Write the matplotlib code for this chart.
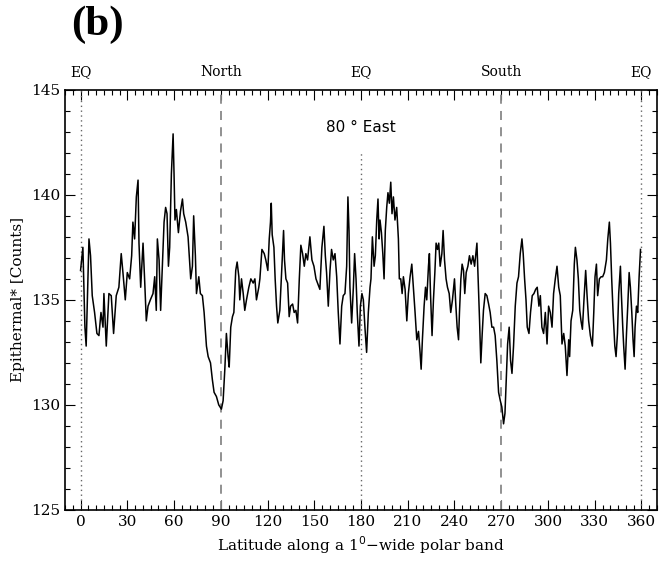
import numpy as np
import matplotlib.pyplot as plt

# latitude along the polar band (deg) and epithermal counts
lat = [0, 1.5, 2.8, 3.6, 5.4, 6.4, 7.5, 9.0, 10.5, 11.8, 13.1, 14.4, 15.0, 16.5, 18.2, 19.7,
       21.2, 22.9, 24.6, 26.1, 27.2, 28.7, 30.0, 31.5, 32.8, 33.6, 34.7, 35.8, 36.9, 37.5,
       38.6, 40.1, 41.1, 42.2, 43.3, 44.8, 46.5, 47.6, 48.6, 49.3, 50.4, 51.4, 52.5, 53.6,
       54.6, 55.5, 56.4, 57.2, 58.3, 59.4, 60.0, 60.6, 61.5, 62.8, 64.1, 65.4, 66.2, 67.5,
       69.0, 70.7, 71.8, 72.6, 73.7, 74.4, 75.9, 76.9, 78.2, 79.3, 80.8, 81.9, 83.4, 84.6,
       85.7, 87.2, 88.7, 90.4, 91.5, 92.6, 93.6, 94.7, 95.4, 96.4, 97.5, 98.4, 99.6, 100.5,
       101.6, 102.2, 103.3, 104.4, 105.4, 106.5, 108.0, 109.3, 110.8, 111.9, 112.9, 114.4,
       115.1, 116.4, 117.9, 118.9, 120.2, 121.1, 121.9, 122.4, 123.0, 124.1, 124.9, 125.8,
       126.6, 127.9, 129.2, 130.3, 130.9, 131.8, 132.9, 133.9, 134.8, 136.1, 137.1, 138.2,
       139.3, 140.4, 141.4, 142.5, 143.6, 144.6, 145.7, 147.2, 148.5, 149.8, 151.1, 152.1,
       153.6, 154.9, 156.2, 157.1, 157.9, 159.0, 160.1, 161.1, 162.2, 163.3, 164.4, 165.4,
       166.5, 167.6, 168.6, 169.7, 170.8, 171.6, 172.3, 172.9, 174.0, 175.1, 175.9, 176.8,
       177.6, 178.7, 179.6, 180.6, 181.5, 182.6, 183.6, 184.7, 185.8, 186.4, 187.3, 188.4,
       189.2, 190.1, 190.9, 191.6, 192.2, 193.1, 194.0, 194.8, 195.6, 196.5, 197.3, 198.2,
       199.1, 199.9, 200.8, 201.8, 202.9, 204.0, 204.6,
       205.5, 206.4, 207.2, 208.3, 209.4, 210.4, 211.5, 212.6, 213.6, 214.7, 215.8, 216.9,
       217.9, 218.6, 219.4, 220.5, 221.4, 222.2, 223.3, 223.9, 224.6, 225.6, 226.5, 227.4,
       228.2, 229.1, 229.9, 230.8, 231.9, 232.7, 233.6, 234.6, 235.5, 236.6, 237.6, 238.7,
       240.0, 240.9, 241.7, 242.6, 243.2, 244.1, 244.9, 245.8, 246.6, 247.5, 248.6, 249.6,
       250.7, 251.8, 252.9, 253.7, 254.4, 255.2, 256.1, 256.9, 257.8, 258.6, 259.7, 260.8,
       261.9, 262.9, 264.0, 265.1, 266.1, 267.2, 268.3, 269.4, 270.4, 271.5, 272.4, 273.2,
       274.1, 275.1, 276.0, 276.9, 277.9, 279.0, 280.1, 281.1, 282.2, 283.3, 284.1, 285.0,
       285.9, 286.7, 287.8, 288.8, 289.9, 291.0, 292.1, 293.1, 294.2,
       295.1, 296.1, 297.2, 298.3, 299.4, 300.4, 301.5, 302.6, 303.6, 304.7, 305.8, 306.9,
       307.9, 309.0, 310.1, 311.1, 312.2, 313.3, 313.9, 314.8, 315.9, 316.9, 317.6, 318.6,
       319.5, 320.4, 321.2, 322.1, 323.1, 324.2, 325.1, 326.1, 327.2, 328.5, 329.4, 330.2,
       331.1, 331.9, 333.0, 334.1, 335.1, 336.2, 337.5, 338.4, 339.4, 340.1, 340.9, 341.8,
       342.9, 343.7, 344.6, 345.4, 346.5, 347.1, 348.0, 348.6, 349.5, 350.4, 351.2, 352.1,
       352.9, 353.8, 354.6, 355.3, 355.9, 356.8, 357.6, 358.5, 359.4]

counts = [136.4, 137.5, 133.7, 132.8, 137.9, 137.1, 135.2, 134.4, 133.4, 133.3, 134.4, 133.7,
          135.3, 132.8, 135.3, 135.2, 133.4, 135.2, 135.6, 137.2, 136.3, 135.0, 136.3, 136.0,
          137.1, 138.7, 137.9, 139.9, 140.7, 137.7, 135.6, 137.7, 136.0, 134.0, 134.7, 135.0,
          135.3, 136.1, 134.5, 137.9, 136.9, 134.5, 136.6, 138.7, 139.4, 139.1, 136.6, 137.5,
          141.0, 142.9, 141.0, 138.8, 139.3, 138.2, 139.2, 139.8, 139.1, 138.7, 138.0, 136.0,
          136.6, 139.0, 137.1, 135.3, 136.1, 135.3, 135.2, 134.4, 132.8, 132.3, 132.0, 131.2,
          130.6, 130.4, 130.0, 129.8, 130.2, 131.7, 133.4, 132.3, 131.8, 133.7, 134.2, 134.4,
          136.4, 136.8, 136.1, 135.0, 136.0, 135.3, 134.5, 135.0, 135.6, 136.0, 135.8, 136.0,
          135.0, 135.6,
          136.0, 137.4, 137.2, 136.9, 136.4, 137.9, 138.7, 139.6, 138.1, 137.5, 136.0, 134.7,
          133.9, 134.5, 136.6, 138.3, 136.9, 136.0, 135.8, 134.2, 134.7, 134.8, 134.4, 134.5,
          133.9, 136.0, 137.6, 137.2, 136.6, 137.2, 136.9, 138.0, 136.9, 136.6, 136.0, 135.8,
          135.5, 137.5, 138.5, 137.1, 136.3, 134.7, 136.4, 137.4, 136.9, 137.2, 136.1, 134.4,
          132.9, 134.7, 135.2, 135.3, 136.6, 139.9, 138.3, 135.6, 133.9, 135.6, 137.2, 136.0,
          134.4, 132.8, 134.7, 135.3, 135.0, 133.6, 132.5, 134.4, 135.6, 136.0, 138.0, 136.6,
          137.1, 138.8, 139.8, 137.9, 138.8, 138.2, 137.2, 136.0, 138.3, 139.4, 140.1, 139.6,
          140.6, 139.1, 139.9, 138.8, 139.4, 137.9, 136.0,
          136.0, 135.3, 136.1, 135.5, 134.0, 135.3, 136.1, 136.7, 135.6, 134.4, 133.1, 133.5,
          132.5, 131.7, 133.1, 134.7, 135.6, 135.0, 136.6, 137.2, 135.3, 133.3, 135.0, 136.3,
          137.7, 137.4, 137.7, 136.6, 137.2, 138.3, 136.9, 136.0, 135.6, 135.3, 134.4, 135.0,
          136.0, 134.7, 133.7, 133.1, 134.4, 136.0, 136.7, 136.4, 135.3, 136.3, 136.6, 137.1,
          136.7, 137.1, 136.6, 137.2, 137.7, 136.0, 134.0, 132.0, 133.4, 134.5, 135.3, 135.2,
          134.8, 134.4, 133.7, 133.7, 133.3, 132.1, 130.6, 130.2, 129.9, 129.1, 129.6, 131.2,
          132.9, 133.7, 132.1, 131.5, 132.8, 134.7, 135.8, 136.1, 137.2, 137.9, 137.2, 136.0,
          135.0, 133.7, 133.4, 134.4, 135.2, 135.3, 135.5, 135.6, 134.7,
          135.2, 133.7, 133.4, 134.4, 132.9, 134.7, 134.4, 133.7, 135.3, 136.0, 136.6, 135.6,
          135.2, 132.9, 133.4, 132.8, 131.4, 133.1, 132.3, 134.0, 134.5, 136.7, 137.5, 136.9,
          136.0, 134.5, 134.0, 133.6, 135.0, 136.4, 135.2, 134.0, 133.3, 132.8, 134.4, 136.1,
          136.7, 135.2, 136.0, 136.1, 136.1, 136.3, 136.9, 137.9, 138.7, 137.7, 136.0, 134.4,
          132.8, 132.3, 133.4, 135.3, 136.6, 135.3, 133.7, 132.8, 131.7, 133.4, 134.7, 136.3,
          135.6, 134.4, 133.1, 132.3, 133.7, 134.7, 134.4, 136.1, 137.4]

top_pos = [0, 90, 180, 270, 360]
top_labels = ['EQ', 'North', 'EQ', 'South', 'EQ']

plt.rcParams['font.family'] = ['DejaVu Serif']

fig = plt.figure(figsize=(6.63, 5.61), dpi=100)
ax = fig.add_axes([0.098, 0.091, 0.893, 0.749])

# reference lines
for x in [0, 180, 360]:
    ymax = 142.1 if x == 180 else 145
    ax.plot([x, x], [125, ymax], ls=(0, (1, 2.5)), color='#666666', lw=1)
for x in [90, 270]:
    ax.axvline(x, ls=(0, (5, 4)), color='#888888', lw=1.3)

ax.plot(lat, counts, color='black', lw=1.1)

ax.set_xlim(-10, 370)
ax.set_ylim(125, 145)
ax.set_xticks(np.arange(0, 361, 30))
ax.set_xticks(np.arange(-10, 371, 5), minor=True)
ax.set_yticks(np.arange(125, 146, 5))
ax.set_yticks(np.arange(125, 146, 1), minor=True)
ax.tick_params(which='both', direction='in', top=True, right=True, labelsize=11)
ax.tick_params(which='major', length=7, width=0.8)
ax.tick_params(which='minor', length=3.5, width=0.8)
for s in ax.spines.values():
    s.set_linewidth(1.2)

ax.set_xlabel('Latitude along a 1$^0$$-$wide polar band', fontsize=11)
ax.set_ylabel('Epithermal* [Counts]', fontsize=11)

for x, t in zip(top_pos, top_labels):
    ax.text(x, 145.5, t, ha='center', va='bottom', fontsize=10)

ax.text(180, 143.2, '80 \u00b0 East', ha='center', va='center', fontsize=11,
        family='DejaVu Sans')

fig.text(0.107, 0.955, '(b)', fontsize=31, fontweight='bold', family='Liberation Serif',
         ha='left', va='center')

plt.savefig('out.png', dpi=100)
